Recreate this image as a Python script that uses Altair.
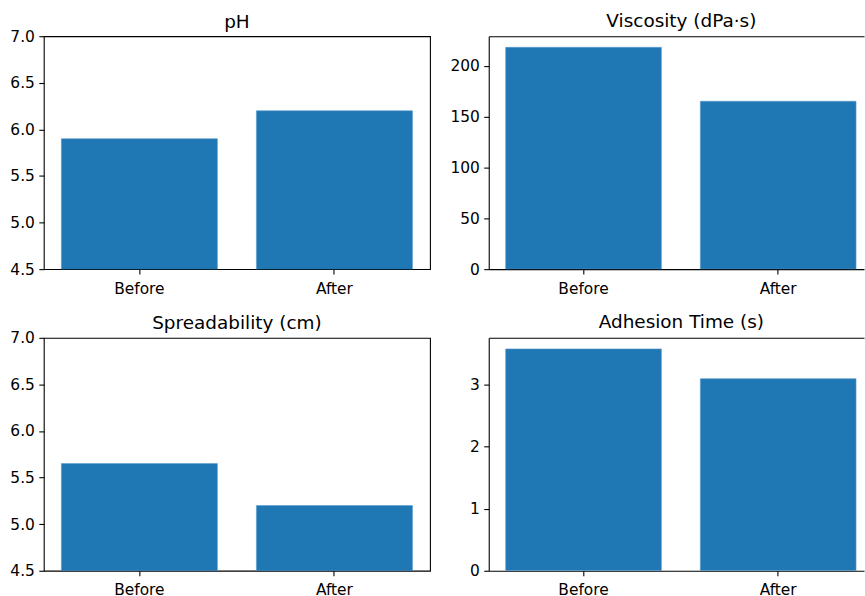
import altair as alt
import pandas as pd

categories = ["Before", "After"]
ph = [5.9, 6.2]
viscosity = [218, 165]
spreadability = [5.65, 5.2]
adhesion = [3.58, 3.1]

FONT = "DejaVu Sans"
COLOR = "#1f77b4"


def panel(title, values, domain, ticks, fmt, width, pad_outer, align, title_dx, title_off,
          open_right=False):
    df = pd.DataFrame({"cat": categories, "val": values})
    xscale = alt.Scale(paddingInner=0.2, paddingOuter=pad_outer, align=align)
    frame = dict(domain=True, domainColor="black", domainWidth=1.1) if open_right else {}
    y = alt.Y(
        "val:Q",
        title=None,
        scale=alt.Scale(domain=domain, nice=False, zero=False),
        axis=alt.Axis(values=ticks, format=fmt, labelPadding=4.5,
                      minExtent=40, maxExtent=40, **frame),
    )
    x = alt.X(
        "cat:N",
        sort=categories,
        title=None,
        scale=xscale,
        axis=alt.Axis(labelAngle=0, labelPadding=7, minExtent=28, maxExtent=28, **frame),
    )
    bars = (
        alt.Chart(df)
        .mark_bar(color=COLOR, clip=True, stroke="#5b9bd0", strokeWidth=0.6)
        .encode(x=x, y=y)
    )
    ttl = alt.TitleParams(title, fontSize=18.5, font=FONT, fontWeight="normal",
                          offset=title_off, color="black", dx=title_dx)
    if not open_right:
        return bars.properties(width=width, height=234, title=ttl)
    top = (
        alt.Chart(df)
        .mark_bar(opacity=0, clip=True)
        .encode(
            x=alt.X(
                "cat:N",
                sort=categories,
                title=None,
                scale=xscale,
                axis=alt.Axis(orient="top", labels=False, ticks=False, domain=True,
                              domainColor="black", domainWidth=1.1,
                              minExtent=0, maxExtent=0),
            ),
            y=y,
        )
    )
    return (
        alt.layer(bars, top)
        .resolve_axis(x="independent")
        .properties(width=width, height=234, title=ttl,
                    view=alt.ViewBackground(stroke="transparent"))
    )


left_w = 388
right_w = 377
p1 = panel("pH", ph, [4.5, 7.0], [4.5, 5.0, 5.5, 6.0, 6.5, 7.0], ".1f", left_w, 0.09, 0.5, 0, -2)
p2 = panel("Viscosity (dPa·s)", viscosity, [0, 228.9], [0, 50, 100, 150, 200], "d", right_w,
           0.064, 0.68, 5, 6, open_right=True)
p3 = panel("Spreadability (cm)", spreadability, [4.5, 7.0], [4.5, 5.0, 5.5, 6.0, 6.5, 7.0], ".1f",
           left_w, 0.09, 0.5, 0, -2)
p4 = panel("Adhesion Time (s)", adhesion, [0, 3.759], [0, 1, 2, 3], "d", right_w,
           0.064, 0.68, 5, 6, open_right=True)

row1 = alt.hconcat(p1, p2, spacing=17)
row2 = alt.hconcat(p3, p4, spacing=17)
chart = (
    alt.vconcat(row1, row2, spacing=14)
    .properties(padding={"left": 3, "top": 9, "right": 0, "bottom": 0})
    .configure_view(stroke="black", strokeWidth=1.1)
    .configure_axis(
        domain=False,
        grid=False,
        ticks=True,
        tickColor="black",
        tickSize=5,
        tickWidth=1.1,
        labelFont=FONT,
        labelFontSize=15.5,
        labelColor="black",
    )
    .configure_title(anchor="middle")
)

chart.save("out.html", embed_options={"renderer": "svg", "actions": False})
